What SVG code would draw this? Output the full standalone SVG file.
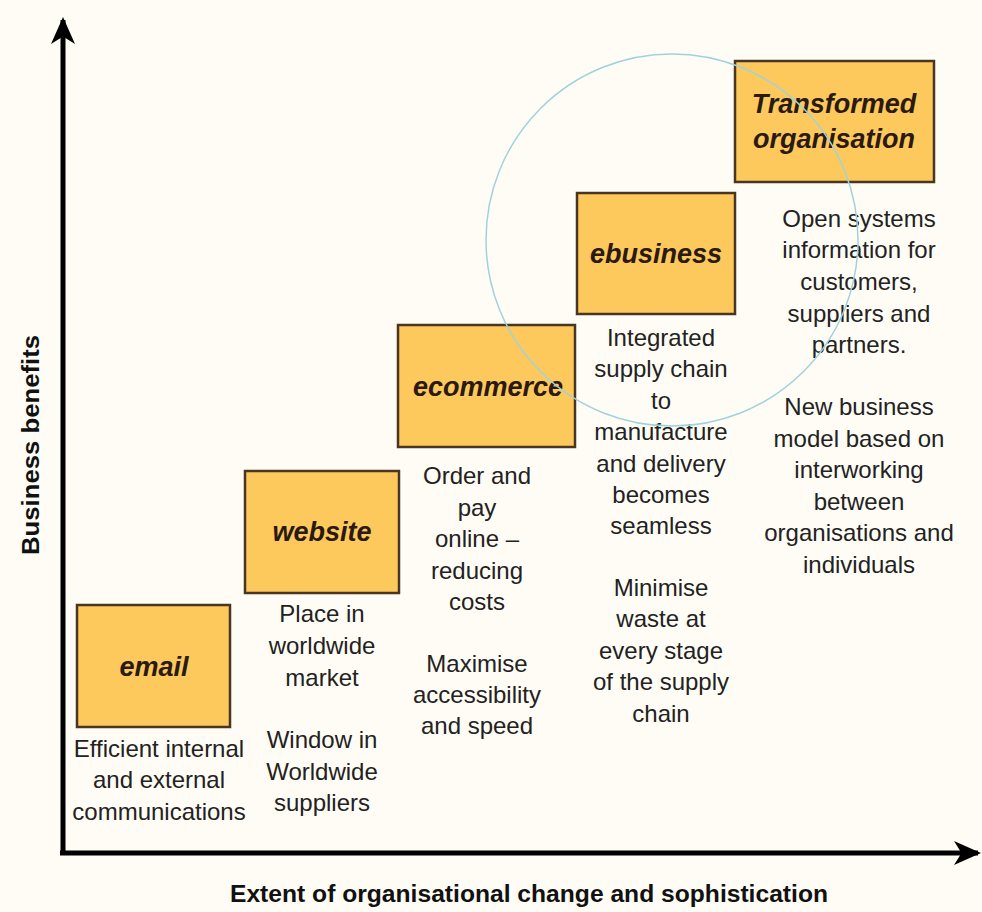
<svg xmlns="http://www.w3.org/2000/svg" width="982" height="912" viewBox="0 0 982 912">
  <style>
    .box { fill: #fdc85c; stroke: #4a3422; stroke-width: 2.5; }
    .label { font-family: "Liberation Sans", Arial, sans-serif; font-size: 27px; font-weight: bold; font-style: italic; fill: #2a1a12; text-anchor: middle; }
    .body { font-family: "Liberation Sans", Arial, sans-serif; font-size: 24px; fill: #222; text-anchor: middle; }
    .axis-title { font-family: "Liberation Sans", Arial, sans-serif; font-size: 23px; font-weight: bold; fill: #111; text-anchor: middle; }
    .axis { stroke: #000; stroke-width: 5; fill: none; }
  </style>
  <defs>
    <marker id="arrow" viewBox="0 0 20 20" refX="16" refY="10" markerWidth="6" markerHeight="6" orient="auto" markerUnits="strokeWidth">
      <path d="M0,2 L18,10 L0,18 L5,10 Z" fill="#000"/>
    </marker>
  </defs>
  <rect width="982" height="912" fill="#fffcf5"/>

  <!-- axes -->
  <g id="axes">
    <line class="axis" x1="63" y1="855" x2="63" y2="20" marker-end="url(#arrow)"/>
    <line class="axis" x1="60" y1="853" x2="978" y2="853" marker-end="url(#arrow)"/>
    <text class="axis-title" transform="translate(39,445) rotate(-90)" textLength="220" lengthAdjust="spacingAndGlyphs">Business benefits</text>
    <text class="axis-title" x="529" y="902" textLength="598" lengthAdjust="spacingAndGlyphs">Extent of organisational change and sophistication</text>
  </g>

  <g id="email">
    <rect class="box" x="77" y="605" width="153" height="122"/>
    <text class="label" x="154" y="676">email</text>
    <text class="body" x="159" y="757">Efficient internal</text>
    <text class="body" x="159" y="788">and external</text>
    <text class="body" x="159" y="820">communications</text>
  </g>

  <g id="website">
    <rect class="box" x="245" y="471" width="154" height="122"/>
    <text class="label" x="322" y="541">website</text>
    <text class="body" x="322" y="622">Place in</text>
    <text class="body" x="322" y="654">worldwide</text>
    <text class="body" x="322" y="686">market</text>
    <text class="body" x="322" y="748">Window in</text>
    <text class="body" x="322" y="780">Worldwide</text>
    <text class="body" x="322" y="811">suppliers</text>
  </g>

  <g id="ecommerce">
    <rect class="box" x="398" y="325" width="177" height="122"/>
    <text class="label" x="488" y="396">ecommerce</text>
    <text class="body" x="477" y="484">Order and</text>
    <text class="body" x="477" y="516">pay</text>
    <text class="body" x="477" y="547">online –</text>
    <text class="body" x="477" y="579">reducing</text>
    <text class="body" x="477" y="610">costs</text>
    <text class="body" x="477" y="672">Maximise</text>
    <text class="body" x="477" y="703">accessibility</text>
    <text class="body" x="477" y="734">and speed</text>
  </g>

  <g id="ebusiness">
    <rect class="box" x="577" y="193" width="158" height="121"/>
    <text class="label" x="656" y="263">ebusiness</text>
    <text class="body" x="661" y="346">Integrated</text>
    <text class="body" x="661" y="377">supply chain</text>
    <text class="body" x="661" y="409">to</text>
    <text class="body" x="661" y="440">manufacture</text>
    <text class="body" x="661" y="472">and delivery</text>
    <text class="body" x="661" y="503">becomes</text>
    <text class="body" x="661" y="534">seamless</text>
    <text class="body" x="661" y="596">Minimise</text>
    <text class="body" x="661" y="627">waste at</text>
    <text class="body" x="661" y="659">every stage</text>
    <text class="body" x="661" y="690">of the supply</text>
    <text class="body" x="661" y="722">chain</text>
  </g>

  <g id="transformed">
    <rect class="box" x="735" y="61" width="199" height="121"/>
    <text class="label" x="834" y="113">Transformed</text>
    <text class="label" x="834" y="148">organisation</text>
    <text class="body" x="859" y="227">Open systems</text>
    <text class="body" x="859" y="258">information for</text>
    <text class="body" x="859" y="290">customers,</text>
    <text class="body" x="859" y="322">suppliers and</text>
    <text class="body" x="859" y="353">partners.</text>
    <text class="body" x="859" y="415">New business</text>
    <text class="body" x="859" y="447">model based on</text>
    <text class="body" x="859" y="478">interworking</text>
    <text class="body" x="859" y="510">between</text>
    <text class="body" x="859" y="541">organisations and</text>
    <text class="body" x="859" y="573">individuals</text>
  </g>

  <!-- highlight ring -->
  <circle cx="672" cy="240" r="186" fill="none" stroke="#9fd3dc" stroke-width="1.5"/>
</svg>
